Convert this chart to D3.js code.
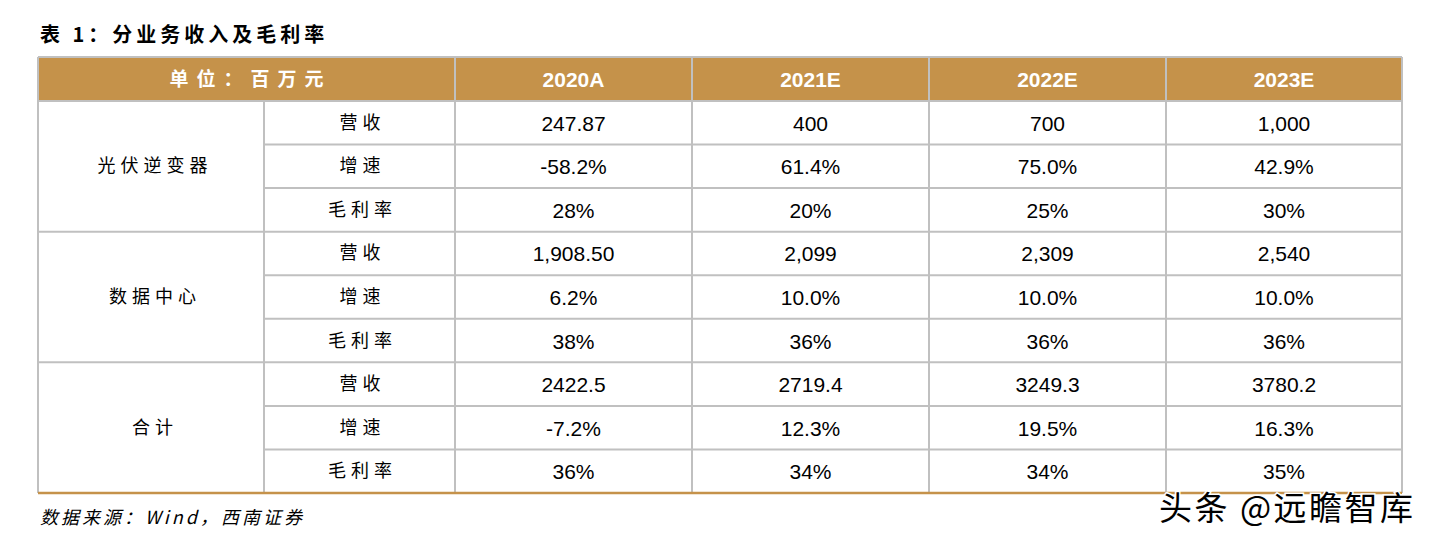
<!DOCTYPE html>
<html><head><meta charset="utf-8">
<script src="https://cdn.jsdelivr.net/npm/d3@7/dist/d3.min.js"></script>
<style>body{margin:0;background:#fff;}svg{display:block;}</style>
</head><body>
<svg id="c" width="1440" height="539"></svg>
<script>
const title = "表 1：分业务收入及毛利率";
const unitLabel = "单位：百万元";
const years = ["2020A", "2021E", "2022E", "2023E"];
const segments = ["光伏逆变器", "数据中心", "合计"];
const metrics = ["营收", "增速", "毛利率"];
const pvValues = [["247.87", "400", "700", "1,000"], ["-58.2%", "61.4%", "75.0%", "42.9%"], ["28%", "20%", "25%", "30%"]];
const dcValues = [["1,908.50", "2,099", "2,309", "2,540"], ["6.2%", "10.0%", "10.0%", "10.0%"], ["38%", "36%", "36%", "36%"]];
const totalValues = [["2422.5", "2719.4", "3249.3", "3780.2"], ["-7.2%", "12.3%", "19.5%", "16.3%"], ["36%", "34%", "34%", "35%"]];
const source = "数据来源：Wind，西南证券";
const watermark = "头条 @远瞻智库";

const allValues = [pvValues, dcValues, totalValues];
const svg = d3.select("#c");
const gold = "#C5924A", grid = "#C0C0C0";
const cjk = "'Noto Sans CJK SC', sans-serif";
const latin = "'Liberation Sans', Arial, sans-serif";

const colEdges = [38, 264, 455, 692, 929, 1166, 1402];
const headTop = 57, headBot = 101, tableBot = 493;
const rowScale = d3.scaleLinear().domain([0, 9]).range([headBot, tableBot]);

// title
svg.append("text").attr("x", 40).attr("y", 42).attr("font-family", cjk).attr("font-weight", 700)
  .attr("font-size", 20).attr("letter-spacing", 4).attr("fill", "#000").text(title);

// header background
svg.append("rect").attr("x", colEdges[0]).attr("y", headTop).attr("width", colEdges[6] - colEdges[0])
  .attr("height", headBot - headTop).attr("fill", gold);
svg.append("text").attr("x", (colEdges[0] + colEdges[2]) / 2 + 4).attr("y", (headTop + headBot) / 2 + 7)
  .attr("text-anchor", "middle").attr("font-family", cjk).attr("font-weight", 700).attr("font-size", 19)
  .attr("letter-spacing", 8).attr("fill", "#fff").text(unitLabel);
svg.selectAll("text.yr").data(years).enter().append("text").attr("class", "yr")
  .attr("x", (d, i) => (colEdges[i + 2] + colEdges[i + 3]) / 2).attr("y", (headTop + headBot) / 2 + 8)
  .attr("text-anchor", "middle").attr("font-family", latin).attr("font-weight", 700).attr("font-size", 21)
  .attr("fill", "#fff").text(d => d);

// rows data
const cells = [];
segments.forEach((s, si) => {
  metrics.forEach((m, mi) => {
    const r = si * 3 + mi;
    cells.push({r, text: m, x: (colEdges[1] + colEdges[2]) / 2, cjk: true});
    allValues[si][mi].forEach((v, yi) => {
      cells.push({r, text: v, x: (colEdges[yi + 2] + colEdges[yi + 3]) / 2, cjk: false});
    });
  });
});

// grid lines
const g = svg.append("g").attr("stroke", grid).attr("stroke-width", 2);
g.append("line").attr("x1", colEdges[0]).attr("x2", colEdges[6]).attr("y1", headTop).attr("y2", headTop);
colEdges.forEach((x, i) => {
  g.append("line").attr("x1", x).attr("x2", x).attr("y1", i === 1 ? headBot : headTop).attr("y2", tableBot);
});
for (let r = 0; r < 9; r++) {
  const y = rowScale(r);
  const x1 = (r % 3 === 0) ? colEdges[0] : colEdges[1];
  g.append("line").attr("x1", x1).attr("x2", colEdges[6]).attr("y1", y).attr("y2", y);
}
svg.append("line").attr("x1", colEdges[0]).attr("x2", colEdges[6]).attr("y1", tableBot).attr("y2", tableBot)
  .attr("stroke", gold).attr("stroke-width", 2.5);

// segment labels
svg.selectAll("text.seg").data(segments).enter().append("text").attr("class", "seg")
  .attr("x", (colEdges[0] + colEdges[1]) / 2 + 4).attr("y", (d, i) => (rowScale(i * 3) + rowScale(i * 3 + 3)) / 2 + 6)
  .attr("text-anchor", "middle").attr("font-family", cjk).attr("font-size", 18).attr("letter-spacing", 5)
  .attr("fill", "#000").text(d => d);

svg.selectAll("text.cell").data(cells).enter().append("text").attr("class", "cell")
  .attr("x", d => d.x + (d.cjk ? 3 : 0)).attr("y", d => (rowScale(d.r) + rowScale(d.r + 1)) / 2 + (d.cjk ? 6 : 8))
  .attr("text-anchor", "middle").attr("font-family", d => d.cjk ? cjk : latin)
  .attr("font-size", d => d.cjk ? 18 : 21).attr("letter-spacing", d => d.cjk ? 5 : 0)
  .attr("fill", "#000").text(d => d.text);

// source
svg.append("text").attr("x", 40).attr("y", 524).attr("font-family", cjk).attr("font-style", "italic")
  .attr("font-size", 18).attr("letter-spacing", 3).attr("fill", "#000").text(source);

// watermark
svg.append("text").attr("x", 1159).attr("y", 520).attr("font-family", cjk).attr("font-size", 33)
  .attr("letter-spacing", 2.5).attr("fill", "#000").attr("stroke", "#fff").attr("stroke-width", 3)
  .attr("paint-order", "stroke").text(watermark);
</script>
</body></html>
